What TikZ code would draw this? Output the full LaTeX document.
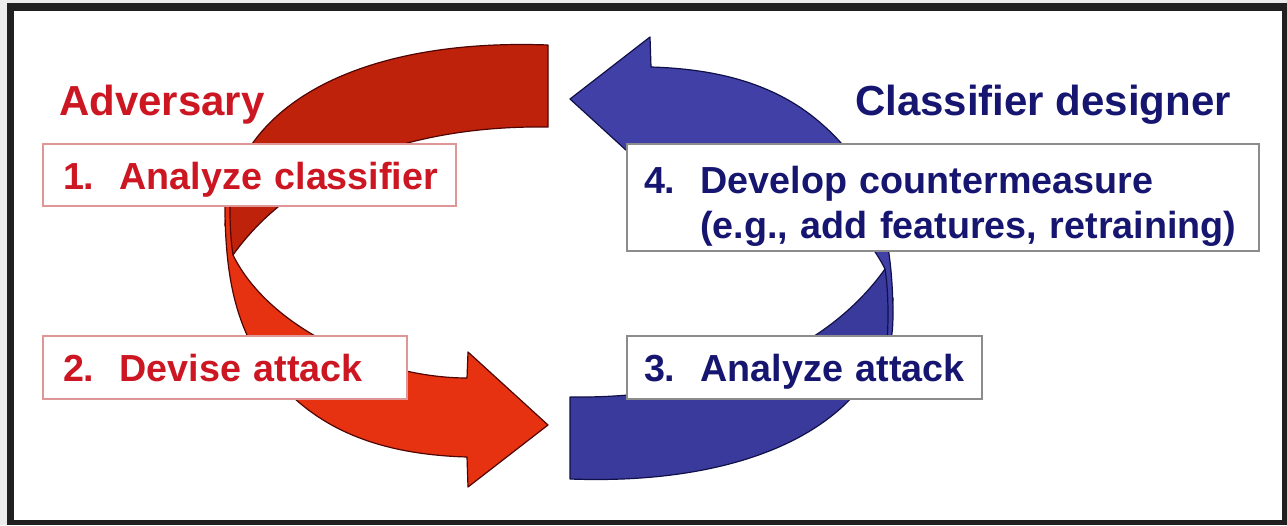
\documentclass[tikz,border=0pt]{standalone}
\usepackage{fontspec}
\setmainfont{Liberation Sans}

\definecolor{advred}{RGB}{204,22,34}
\definecolor{backred}{RGB}{190,34,10}
\definecolor{frontred}{RGB}{230,50,16}
\definecolor{edgered}{RGB}{80,5,5}
\definecolor{backblue}{RGB}{58,58,156}
\definecolor{frontblue}{RGB}{64,64,166}
\definecolor{edgeblue}{RGB}{16,16,72}
\definecolor{navy}{RGB}{22,22,112}
\definecolor{pinkline}{RGB}{222,150,150}
\definecolor{greyline}{RGB}{140,140,140}
\definecolor{outside}{RGB}{236,236,236}
\definecolor{frameblack}{RGB}{32,32,32}

\tikzset{
  stepbox/.style={draw, line width=2pt, fill=white, anchor=north west,
    inner xsep=20pt, inner ysep=0pt, align=left,
    font=\fontsize{37.7}{45}\selectfont\bfseries},
  oneline/.style={text height=34pt, text depth=6pt},
  advbox/.style={stepbox, draw=pinkline, text=advred},
  desbox/.style={stepbox, draw=greyline, text=navy},
  role/.style={anchor=base west, inner sep=0pt,
    font=\fontsize{42}{50}\selectfont\bfseries},
  band/.style={line width=1.2pt, line join=round},
}

% one curved arrow: the back band, then the front band with its head
\newcommand{\loopback}{%
  (548,45) .. controls (360,38) and (230,105) .. (225,225)
  -- (233,255) .. controls (290,175) and (400,125) .. (548,127) -- cycle}
\newcommand{\loopfront}{%
  (233,165) .. controls (226,180) and (225,195) .. (225,212)
  .. controls (226,290) and (240,350) .. (294,398)
  .. controls (340,440) and (400,455) .. (467,457)
  -- (468,487) -- (548,425) -- (468,352) -- (467,378)
  .. controls (380,378) and (270,330) .. (233,255)
  .. controls (229,230) and (229,190) .. (233,165) -- cycle}
% a strut that lowers the first line a little inside its box
\newcommand{\lowerline}[1]{\rule{0pt}{#1}}

\begin{document}
\begin{tikzpicture}[x=1pt, y=-1pt]
  \useasboundingbox (0,0) rectangle (1287,525);
  % page background and frame
  \fill[outside] (0,0) rectangle (1287,525);
  \fill[frameblack] (7,3) rectangle (1287,525);
  \fill[white] (14,11) rectangle (1282,520);

  % adversary loop (red)
  \filldraw[band, fill=backred, draw=edgered] \loopback;
  \filldraw[band, fill=frontred, draw=edgered] \loopfront;

  % designer loop (blue), the same arrow turned half a circle
  \begin{scope}[rotate around={180:(559,262)}]
    \filldraw[band, fill=backblue, draw=edgeblue] \loopback;
    \filldraw[band, fill=frontblue, draw=edgeblue] \loopfront;
  \end{scope}

  % steps
  \node[advbox, oneline, minimum width=413pt, minimum height=62pt, text width=373pt]
    (s1) at (42,143) {\mbox{1.\ \ Analyze classifier}};
  \node[advbox, oneline, minimum width=364pt, minimum height=63pt, text width=324pt]
    (s2) at (42,335) {\mbox{2.\ \ Devise attack}};
  \node[desbox, oneline, minimum width=355pt, minimum height=63pt, text width=321pt, inner xsep=17pt]
    (s3) at (626,335) {\mbox{3.\ \ Analyze attack}};
  \node[desbox, minimum width=632pt, minimum height=107pt, text width=598pt, inner xsep=17pt]
    (s4) at (626,143) {\mbox{\lowerline{45pt}4.\ \ Develop countermeasure}\\
      \mbox{\hspace*{56pt}(e.g., add features, retraining)}};

  % roles
  \node[role, text=advred] (adv) at (59,115) {Adversary};
  \node[role, text=navy] (des) at (855,115) {Classifier designer};
\end{tikzpicture}
\end{document}
